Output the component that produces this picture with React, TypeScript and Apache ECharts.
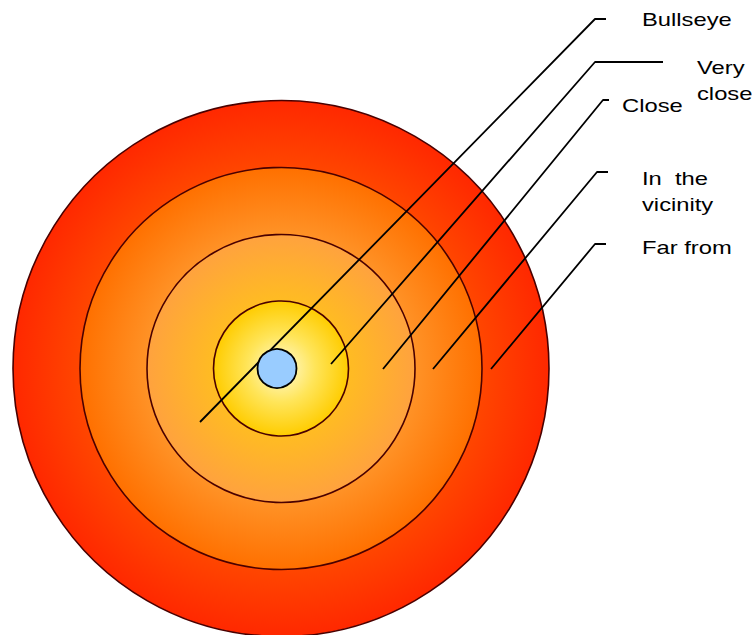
import React, { useEffect, useRef } from "react";
import * as echarts from "echarts";

// Diagram space (1 unit = 1 px of the 753x635 reference)
const WIDTH = 753;
const HEIGHT = 635;

// Concentric target rings, outer to inner
const ringNames = ["Far from", "In the vicinity", "Close", "Very close"];
const ringRadius = [268, 201, 134, 67.5];
const ringCenter = [281, 368.5];
const ringGradients = [
  ["#FF7000", "#FF4600", "#FF2800"],
  ["#FFB458", "#FF9226", "#FF7000"],
  ["#FFD22A", "#FFBC22", "#FFA23E"],
  ["#FFFBD8", "#FFE55A", "#FFCC00"],
];
const ringGradientMid = [0.75, 0.67, 0.5, 0.5];

// Bullseye dot
const bullseyeCenter = [277, 368.5];
const bullseyeRadius = 19.5;

// Callout labels and their leader lines
const labels = ["Bullseye", "Very\nclose", "Close", "In  the\nvicinity", "Far from"];
const labelX = [642, 697, 622, 642, 642];
const labelY = [20, 81, 106, 192, 248];
const leaderStart = [
  [200, 422],
  [331, 364],
  [383, 369],
  [433, 369],
  [491, 369],
];
const leaderElbow = [
  [595, 19],
  [595, 62],
  [603, 100],
  [597, 172],
  [595, 244],
];
const leaderEnd = [
  [606, 19],
  [663, 62],
  [609, 100],
  [608, 172],
  [606, 244],
];

export default function App() {
  const ref = useRef<HTMLDivElement>(null);

  useEffect(() => {
    document.body.style.margin = "0";
    if (!ref.current) return;
    const chart = echarts.init(ref.current, null, { renderer: "svg" });

    const ringData = ringRadius.map((r, i) => ({
      name: ringNames[i],
      value: [ringCenter[0], ringCenter[1], r, i],
    }));

    const leaderData = labels.map((t, i) => ({
      name: t,
      value: [
        leaderStart[i][0], leaderStart[i][1],
        leaderElbow[i][0], leaderElbow[i][1],
        leaderEnd[i][0], leaderEnd[i][1],
        labelX[i], labelY[i], i,
      ],
    }));

    const option: any = {
      animation: false,
      grid: { left: 0, right: 0, top: 0, bottom: 0 },
      xAxis: { type: "value", min: 0, max: WIDTH, show: false },
      yAxis: { type: "value", min: 0, max: HEIGHT, inverse: true, show: false },
      series: [
        {
          type: "custom",
          name: "rings",
          z: 1,
          silent: true,
          data: ringData,
          renderItem: (params: any, api: any) => {
            const c = api.coord([api.value(0), api.value(1)]);
            const r = api.size([api.value(2), 0])[0];
            const i = api.value(3);
            const g = ringGradients[i];
            return {
              type: "circle",
              shape: { cx: c[0], cy: c[1], r },
              style: {
                fill: new echarts.graphic.RadialGradient(0.5, 0.5, 0.5, [
                  { offset: 0, color: g[0] },
                  { offset: ringGradientMid[i], color: g[1] },
                  { offset: 1, color: g[2] },
                ]),
                stroke: "#4A0000",
                lineWidth: 1.6,
              },
            };
          },
        },
        {
          type: "custom",
          name: "leaders",
          z: 2,
          silent: true,
          data: leaderData,
          renderItem: (params: any, api: any) => {
            const p0 = api.coord([api.value(0), api.value(1)]);
            const p1 = api.coord([api.value(2), api.value(3)]);
            const p2 = api.coord([api.value(4), api.value(5)]);
            const lp = api.coord([api.value(6), api.value(7)]);
            const i = api.value(8);
            return {
              type: "group",
              children: [
                {
                  type: "polyline",
                  shape: { points: [p0, p1, p2] },
                  style: { stroke: "#000", lineWidth: 1.8, fill: null, lineJoin: "round" },
                },
                {
                  type: "text",
                  x: lp[0],
                  y: lp[1],
                  scaleX: 1.25,
                  style: {
                    x: 0,
                    y: 0,
                    text: labels[i],
                    fill: "#000",
                    fontSize: 19,
                    fontFamily: "Liberation Sans, Arial, sans-serif",
                    align: "left",
                    verticalAlign: "middle",
                    lineHeight: 26,
                  },
                },
              ],
            };
          },
        },
        {
          type: "custom",
          name: "bullseye",
          z: 3,
          silent: true,
          data: [{ name: "Bullseye", value: [bullseyeCenter[0], bullseyeCenter[1], bullseyeRadius] }],
          renderItem: (params: any, api: any) => {
            const c = api.coord([api.value(0), api.value(1)]);
            const r = api.size([api.value(2), 0])[0];
            return {
              type: "circle",
              shape: { cx: c[0], cy: c[1], r },
              style: { fill: "#99CCFF", stroke: "#000", lineWidth: 1.8 },
            };
          },
        },
      ],
    };

    chart.setOption(option);
    return () => chart.dispose();
  }, []);

  return <div ref={ref} style={{ width: WIDTH, height: HEIGHT }} />;
}
